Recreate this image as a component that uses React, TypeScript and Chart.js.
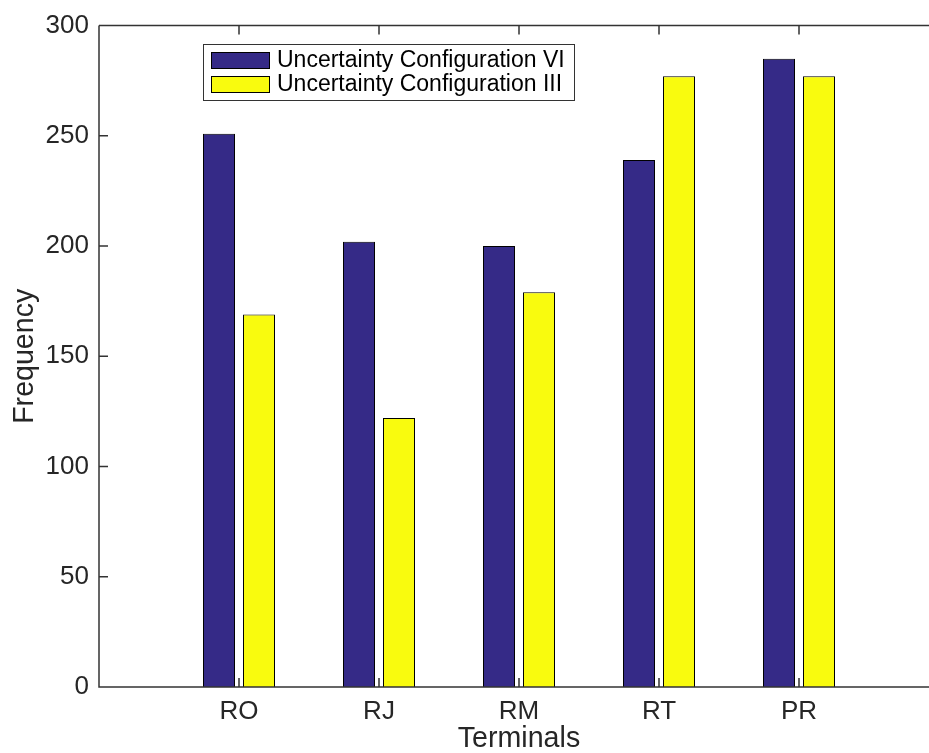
import React, { useEffect, useRef } from "react";
import { Chart, registerables } from "chart.js";

Chart.register(...registerables);

// Terminal names along the x axis
const categories = ["RO", "RJ", "RM", "RT", "PR"];
// Frequency per terminal for each uncertainty configuration
const configVI = [251, 202, 200, 239, 285];
const configIII = [169, 122, 179, 277, 277];
const seriesLabels = ["Uncertainty Configuration VI", "Uncertainty Configuration III"];
const yTicks = [0, 50, 100, 150, 200, 250, 300];

const FONT = "'Liberation Sans', Arial, Helvetica, sans-serif";
const AXIS_COLOR = "#333333";
const TEXT_COLOR = "#262626";
const BLUE = "#352a87";
const YELLOW = "#f9fb0e";

// Axis frame with inward tick marks plus a boxed legend inside the plot area
const framePlugin = {
  id: "frame",
  afterDraw(chart: any) {
    const { ctx, chartArea } = chart;
    const { left, right, top, bottom } = chartArea;
    const x = chart.scales.x;
    const y = chart.scales.y;
    ctx.save();
    ctx.strokeStyle = AXIS_COLOR;
    ctx.lineWidth = 1.5;
    ctx.beginPath();
    ctx.moveTo(left, top);
    ctx.lineTo(right, top);
    ctx.moveTo(left, top);
    ctx.lineTo(left, bottom);
    ctx.lineTo(right, bottom);
    const tl = 9;
    yTicks.forEach((v) => {
      const py = y.getPixelForValue(v);
      ctx.moveTo(left, py);
      ctx.lineTo(left + tl, py);
    });
    categories.forEach((_, i) => {
      const px = x.getPixelForValue(i + 1);
      ctx.moveTo(px, bottom);
      ctx.lineTo(px, bottom - tl);
      ctx.moveTo(px, top);
      ctx.lineTo(px, top + tl);
    });
    ctx.stroke();

    // legend
    const bx = 203.5, by = 44.5, bw = 371, bh = 56;
    ctx.fillStyle = "#ffffff";
    ctx.fillRect(bx, by, bw, bh);
    ctx.lineWidth = 1;
    ctx.strokeStyle = AXIS_COLOR;
    ctx.strokeRect(bx, by, bw, bh);
    chart.data.datasets.forEach((ds: any, i: number) => {
      const sy = 52 + i * 24;
      ctx.fillStyle = ds.backgroundColor;
      ctx.fillRect(211, sy, 59, 17);
      ctx.strokeStyle = "#000000";
      ctx.strokeRect(211.5, sy + 0.5, 58, 16);
      ctx.fillStyle = "#000000";
      ctx.font = `23px ${FONT}`;
      ctx.textAlign = "left";
      ctx.textBaseline = "middle";
      ctx.fillText(ds.label, 277, sy + 9);
    });
    ctx.restore();
  },
};

export default function App() {
  const ref = useRef<HTMLCanvasElement | null>(null);

  useEffect(() => {
    if (!ref.current) return;
    const toPoints = (vals: number[]) => vals.map((v, i) => ({ x: i + 1, y: v }));
    const chart = new Chart(ref.current, {
      type: "bar",
      data: {
        datasets: [
          {
            label: seriesLabels[0],
            data: toPoints(configVI),
            backgroundColor: BLUE,
            borderColor: "#000000",
            borderWidth: 1,
            categoryPercentage: 80 / 140,
            barPercentage: 0.8,
          },
          {
            label: seriesLabels[1],
            data: toPoints(configIII),
            backgroundColor: YELLOW,
            borderColor: "#000000",
            borderWidth: 1,
            categoryPercentage: 80 / 140,
            barPercentage: 0.8,
          },
        ] as any,
      },
      options: {
        animation: false,
        responsive: false,
        devicePixelRatio: 1,
        layout: { padding: { top: 23, left: 0, right: 0, bottom: 0 } },
        plugins: {
          legend: { display: false },
          tooltip: { enabled: false },
        },
        scales: {
          x: {
            type: "linear",
            min: 0,
            max: 6,
            offset: false,
            grid: { display: false, drawTicks: false },
            border: { display: false },
            afterBuildTicks: (scale: any) => {
              scale.ticks = categories.map((_, i) => ({ value: i + 1 }));
            },
            afterFit: (scale: any) => {
              scale.height = 66;
            },
            ticks: {
              autoSkip: false,
              maxRotation: 0,
              padding: 9,
              color: TEXT_COLOR,
              font: { family: FONT, size: 26 },
              callback: (v: any) => categories[Number(v) - 1] ?? "",
            },
            title: {
              display: true,
              text: "Terminals",
              color: TEXT_COLOR,
              font: { family: FONT, size: 28.6, lineHeight: 1 },
              padding: { top: 0, bottom: 0 },
            },
          },
          y: {
            min: 0,
            max: 300,
            grid: { display: false, drawTicks: false },
            border: { display: false },
            afterBuildTicks: (scale: any) => {
              scale.ticks = yTicks.map((v) => ({ value: v }));
            },
            afterFit: (scale: any) => {
              scale.width = 99;
            },
            ticks: {
              padding: 10,
              color: TEXT_COLOR,
              font: { family: FONT, size: 26 },
            },
            title: {
              display: true,
              text: "Frequency",
              color: TEXT_COLOR,
              font: { family: FONT, size: 28.6 },
              padding: { top: 8, bottom: 0 },
            },
          },
        },
      } as any,
      plugins: [framePlugin],
    });
    return () => chart.destroy();
  }, []);

  return (
    <div
      style={{
        position: "absolute",
        left: 0,
        top: 0,
        width: 929,
        height: 753,
        overflow: "hidden",
        background: "#ffffff",
      }}
    >
      <canvas ref={ref} width={939} height={753} style={{ width: 939, height: 753, display: "block" }} />
    </div>
  );
}
